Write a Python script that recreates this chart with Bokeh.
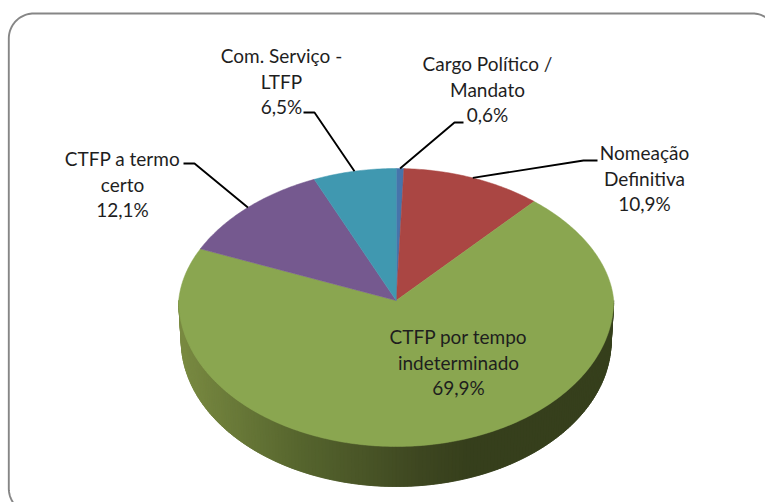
import numpy as np
from bokeh.plotting import figure
from bokeh.models import Range1d
from bokeh.core.properties import value
from bokeh.embed import file_html
from bokeh.resources import INLINE

# ---- data (clockwise from 12 o'clock)
categories = ["Cargo Político / Mandato", "Nomeação Definitiva", "CTFP por tempo indeterminado",
              "CTFP a termo certo", "Com. Serviço - LTFP"]
shares = [0.6, 10.9, 69.9, 12.1, 6.5]
share_labels = ["0,6%", "10,9%", "69,9%", "12,1%", "6,5%"]
label_lines = [["Cargo Político /", "Mandato"], ["Nomeação", "Definitiva"],
               ["CTFP por tempo", "indeterminado"], ["CTFP a termo", "certo"],
               ["Com. Serviço -", "LTFP"]]
colors = ["#4674AB", "#AA4643", "#8AA650", "#75598F", "#4098B0"]

# ---- layout
W, H = 765, 502
OX, OY = 0, 0
CX, CY = 395.7, 300
RX, RY_UP, RY_DOWN = 217.5, 132, 146
RX_BASE, BASE_Y = 215, 340
RX_BACK_SHRINK = 12  # perspective: the far half of the disc is narrower
FONT = "Lato"
FS = "19px"
LH = 25.5
label_pos = [(487, 63), (644, 152), (458, 336), (122, 158), (281, 55)]
# elbow of each leader: start at label side, then knee; slice end is computed
leader_knees = {0: [(463, 122), (454, 122)], 1: [(597, 160), (583, 160)],
                3: [(183, 163), (194, 163)], 4: [(303, 112), (314, 112)]}

p = figure(width=W, height=H, x_range=Range1d(OX, OX + W), y_range=Range1d(OY + H, OY),
           toolbar_location=None, output_backend="svg", tools="",
           min_border=0, outline_line_color=None, background_fill_color="white")
p.axis.visible = False
p.grid.visible = False


def rim(theta, rx=RX, base=CY):
    s, c = np.sin(theta), np.cos(theta)
    r_x = rx - RX_BACK_SHRINK * np.clip(c, 0, None)
    return CX + r_x * s, base - np.where(c > 0, RY_UP, RY_DOWN) * c


# frame (rounded, runs past the right and bottom edge)
L, T, R, B, r = 8.3, 13, 777, 513, 25
a = np.linspace(0, np.pi / 2, 24)
fx = np.concatenate([L + r - r * np.cos(a), R - r + r * np.sin(a), R - r + r * np.cos(a), L + r - r * np.sin(a), [L]])
fy = np.concatenate([T + r - r * np.sin(a), T + r - r * np.cos(a), B - r + r * np.sin(a), B - r + r * np.cos(a), [T + r]])
p.line(fx, fy, line_color="#868686", line_width=1.9)

# side wall with horizontal shading
stops_x = [178, 300, 420, 470, 613]
stops_r = [122, 86, 62, 54, 54]
stops_g = [139, 101, 71, 63, 63]
stops_b = [66, 46, 33, 28, 28]
th = np.linspace(np.pi / 2, 3 * np.pi / 2, 181)
xs, ys, cols = [], [], []
tx, ty = rim(th)
bx, by = rim(th, RX_BASE, BASE_Y)
for i in range(len(th) - 1):
    j = min(i + 2, len(th) - 1)
    xs.append([tx[i], tx[j], bx[j], bx[i]])
    ys.append([ty[i], ty[j], by[j], by[i]])
    m = (tx[i] + tx[i + 1]) / 2
    cols.append("#%02x%02x%02x" % (int(np.interp(m, stops_x, stops_r)),
                                   int(np.interp(m, stops_x, stops_g)),
                                   int(np.interp(m, stops_x, stops_b))))
p.patches(xs, ys, fill_color=cols, line_color=cols, line_width=0.6)

# top face
edges = np.cumsum([0] + shares) / sum(shares) * 2 * np.pi
for i, col in enumerate(colors):
    t = np.linspace(edges[i], edges[i + 1], max(4, int(shares[i] * 5)))
    ex, ey = rim(t)
    p.patch(np.r_[CX, ex], np.r_[CY, ey], fill_color=col, line_color=col, line_width=0.5)

# leaders
for i, knees in leader_knees.items():
    ax, ay = rim(np.array([(edges[i] + edges[i + 1]) / 2]))
    p.line([k[0] for k in knees] + [float(ax[0])], [k[1] for k in knees] + [float(ay[0])],
           line_color="#000000", line_width=1.9)

# labels
tx_, ty_, tt = [], [], []
for i, lines in enumerate(label_lines):
    x0, y0 = label_pos[i]
    for n, s in enumerate(lines + [share_labels[i]]):
        tx_.append(x0)
        ty_.append(y0 + n * LH)
        tt.append(s)
p.text(tx_, ty_, text=tt, text_font=value(FONT), text_font_size=value(FS), text_color="#1e1e1e",
       text_align="center", text_baseline="middle")

open("out.html", "w").write(file_html(p, INLINE))
